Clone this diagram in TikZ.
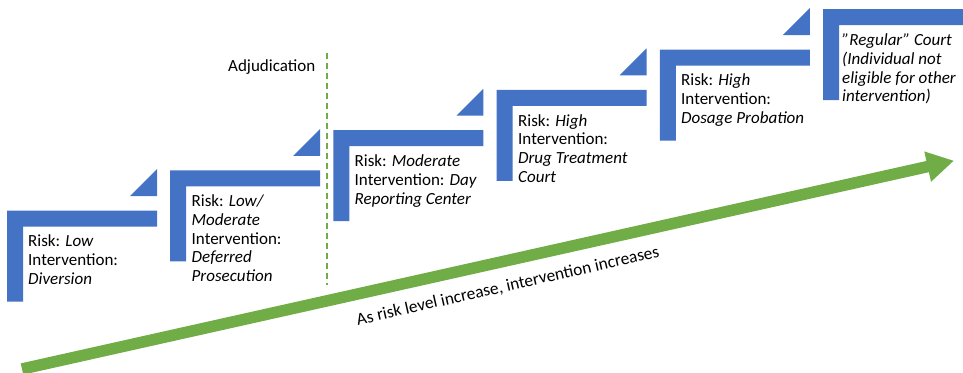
\documentclass[tikz,border=0pt]{standalone}
\usepackage{fontspec}
\setmainfont{Carlito}
\usetikzlibrary{arrows.meta}
\definecolor{stepblue}{HTML}{4472C4}
\definecolor{arrowgreen}{HTML}{70AD47}
\tikzset{
  stepbar/.style={fill=stepblue, draw=none},
  steptext/.style={anchor=north west, inner sep=0pt, align=left, text=black,
    font=\fontsize{17}{18.8}\selectfont},
  risklabel/.style={inner sep=0pt, text=black, font=\fontsize{17}{20}\selectfont},
}
\begin{document}
\begin{tikzpicture}[x=1pt, y=-1pt]
\useasboundingbox (0,0) rectangle (963,372);
% step shapes
\foreach \i in {0,...,5} {
  \pgfmathsetmacro\xo{7+163.2*\i}
  \pgfmathsetmacro\yo{210.7-40.3*\i}
  \pgfmathsetmacro\xe{min(\xo+150,963)}
  \fill[stepbar] (\xo,\yo) -- (\xe,\yo) -- (\xe,\yo+16) -- (\xo+16,\yo+16)
     -- (\xo+16,\yo+91) -- (\xo,\yo+91) -- cycle;
}
\foreach \i in {0,...,4} {
  \pgfmathsetmacro\xo{7+163.2*\i}
  \pgfmathsetmacro\yo{210.7-40.3*\i}
  \fill[stepbar] (\xo+150,\yo-14.5) -- (\xo+150,\yo-41.5) -- (\xo+123,\yo-14.5) -- cycle;
}
% texts
\node[steptext] (s1) at (28,234.5) {Risk: \textit{Low}\\Intervention:\\\textit{Diversion}};
\node[steptext] (s2) at (191.5,194.5) {Risk: \textit{Low/}\\\textit{Moderate}\\Intervention:\\\textit{Deferred}\\\textit{Prosecution}};
\node[steptext] (s3) at (354.5,154.5) {Risk: \textit{Moderate}\\Intervention: \textit{Day}\\\textit{Reporting Center}};
\node[steptext] (s4) at (518,114) {Risk: \textit{High}\\Intervention:\\\textit{Drug Treatment}\\\textit{Court}};
\node[steptext] (s5) at (681,73.5) {Risk: \textit{High}\\Intervention:\\\textit{Dosage Probation}};
\node[steptext] (s6) at (842,33.5) {\textit{\symbol{34}Regular\symbol{34} Court}\\\textit{(Individual not}\\\textit{eligible for other}\\\textit{intervention)}};
% adjudication
\node[risklabel, anchor=base west] (adj) at (228,71) {Adjudication};
\coordinate (dtop) at (327,53);
\coordinate (dbot) at (327,285);
\draw[arrowgreen, line width=1.6pt, dash pattern=on 6pt off 4pt] (dtop) -- (dbot);
% arrow
\coordinate (atail) at (22,369);
\coordinate (ahead) at (954,160.7);
\draw[arrowgreen, line width=11.5pt, -{Triangle[length=27pt, width=29pt]}] (atail) -- (ahead);
\node[risklabel, anchor=base, rotate=12.8, font=\fontsize{17.4}{20}\selectfont] (lbl) at (509,291) {As risk level increase, intervention increases};
\end{tikzpicture}
\end{document}
